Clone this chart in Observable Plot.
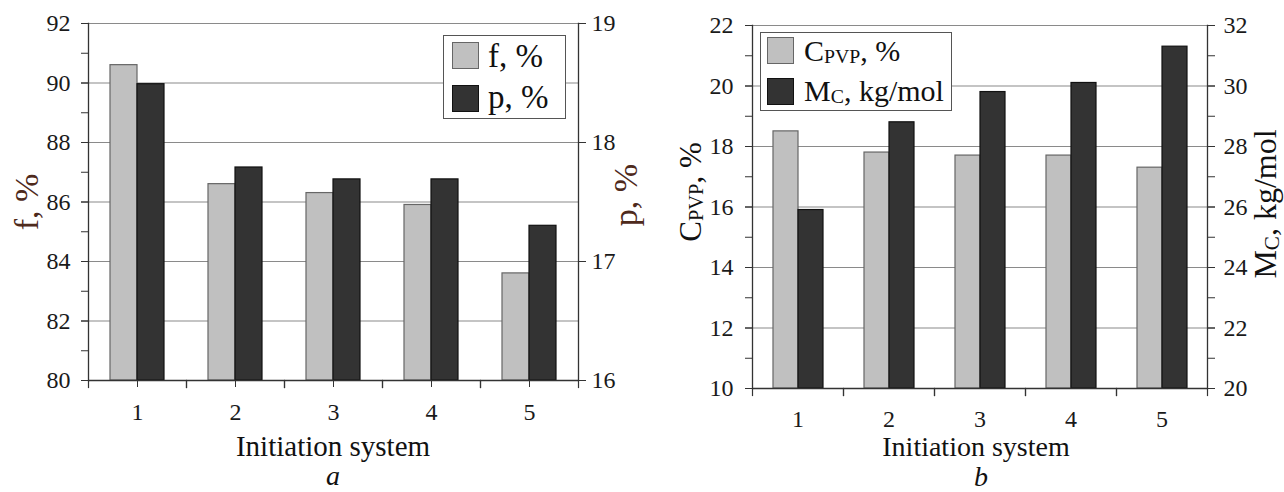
<!DOCTYPE html>
<html><head><meta charset="utf-8">
<script src="https://cdn.jsdelivr.net/npm/d3@7"></script>
<script src="https://cdn.jsdelivr.net/npm/@observablehq/plot@0.6"></script>
<style>
body{margin:0;background:#fff;}
#wrap{position:relative;width:1284px;height:492px;overflow:hidden;font-family:"Liberation Serif","Times New Roman",serif;color:#111;background:#fff;}
.panel{position:absolute;top:0;}
.t{position:absolute;white-space:nowrap;line-height:1;transform:translate(-50%,-50%);}
.tl{position:absolute;white-space:nowrap;line-height:1;transform:translate(0,-50%);}
.rot{transform:translate(-50%,-50%) rotate(-90deg);}
.legend{position:absolute;background:#fff;border:1.5px solid #555;box-sizing:border-box;}
.sw{position:absolute;width:27px;height:27px;box-sizing:border-box;}
.sub{font-size:0.66em;position:relative;top:0.12em;}
</style></head><body><div id="wrap"></div>
<script>
// ---- data ----
const categories = ["1", "2", "3", "4", "5"];
const fValues = [90.6, 86.6, 86.3, 85.9, 83.6];      // f, % (left axis, panel a)
const pValues = [18.49, 17.79, 17.69, 17.69, 17.3];  // p, % (right axis, panel a)
const cValues = [18.5, 17.8, 17.7, 17.7, 17.3];      // C_PVP, % (left axis, panel b)
const mValues = [25.9, 28.8, 29.8, 30.1, 31.3];      // M_C, kg/mol (right axis, panel b)
const fTicks = [80, 82, 84, 86, 88, 90, 92];
const pTicks = [16, 17, 18, 19];
const cTicks = [10, 12, 14, 16, 18, 20, 22];
const mTicks = [20, 22, 24, 26, 28, 30, 32];

const LIGHT = "#c0c0c0", LIGHT_STROKE = "#666", DARK = "#333333", DARK_STROKE = "#111";
const GRID = "#8a8a8a", AXIS = "#333";
const font = '"Liberation Serif","Times New Roman",serif';

// secondary -> primary axis mappings
const pToF = p => 80 + (p - 16) * 4;
const fToP = f => 16 + (f - 80) / 4;
const mToC = m => m - 10;
const cToM = c => c + 10;

const wrap = document.getElementById("wrap");

function panel({left, width, height, mL, mR, mT, mB, yDomain, rows, gridTicks, leftMinor, leftMajor, rightMinor, rightMajor, rightFmt, fxPad, centerTicks, padOuter, lPad, rPad}) {
  const plotH = height - mT - mB;
  const marks = [
    Plot.ruleY(gridTicks, {stroke: GRID, strokeWidth: 1.2}),
    Plot.barY(rows.filter(d => d.s === "a"), {fx: "cat", x: "s", y1: yDomain[0], y2: "y", fill: LIGHT, stroke: LIGHT_STROKE, strokeWidth: 1.2}),
    Plot.barY(rows.filter(d => d.s === "b"), {fx: "cat", x: "s", y1: yDomain[0], y2: "y", fill: DARK, stroke: DARK_STROKE, strokeWidth: 1.2}),
    Plot.ruleY([yDomain[0]], {stroke: AXIS, strokeWidth: 1.3}),
    Plot.frame({anchor: "left", facetAnchor: "left", stroke: AXIS, strokeWidth: 1.3}),
    Plot.frame({anchor: "right", facetAnchor: "right", stroke: AXIS, strokeWidth: 1.3}),
    // boundary ticks on the category axis
    Plot.frame({anchor: "left", insetTop: plotH, insetBottom: -7, stroke: AXIS, strokeWidth: 1.2}),
    Plot.frame({anchor: "right", insetTop: plotH, insetBottom: -7, stroke: AXIS, strokeWidth: 1.2}),
    Plot.axisY({anchor: "left", ticks: leftMinor, tickSize: 7, tickFormat: () => "", stroke: AXIS, label: null}),
    Plot.axisY({anchor: "left", ticks: leftMajor, tickSize: 7, tickPadding: lPad, fontSize: 24, fill: "#1a1a1a", stroke: AXIS, label: null}),
    Plot.axisY({anchor: "right", ticks: rightMinor, tickSize: 7, tickFormat: () => "", stroke: AXIS, label: null}),
    Plot.axisY({anchor: "right", ticks: rightMajor, tickSize: 7, tickPadding: rPad, tickFormat: rightFmt, fontSize: 24, fill: "#1a1a1a", stroke: AXIS, label: null}),
    Plot.axisFx({anchor: "bottom", tickSize: centerTicks ? 7 : 0, tickPadding: fxPad, fontSize: 24, fill: "#1a1a1a", stroke: AXIS, label: null})
  ];
  const svg = Plot.plot({
    width, height, marginLeft: mL, marginRight: mR, marginTop: mT, marginBottom: mB,
    style: {fontFamily: font, background: "transparent", overflow: "visible"},
    fx: {domain: categories, padding: 0, label: null},
    x: {domain: ["a", "b"], paddingInner: 0, paddingOuter: padOuter, axis: null},
    y: {domain: yDomain, axis: null},
    marks
  });
  const div = document.createElement("div");
  div.className = "panel";
  div.style.left = left + "px";
  div.appendChild(svg);
  wrap.appendChild(div);
}

// panel a
const rowsA = categories.flatMap((c, i) => [
  {cat: c, s: "a", y: fValues[i]},
  {cat: c, s: "b", y: pToF(pValues[i])}
]);
panel({
  left: 0, width: 642, height: 470, mL: 88, mR: 64, mT: 23, mB: 90,
  yDomain: [80, 92], rows: rowsA, gridTicks: fTicks,
  leftMinor: d3.range(80, 93, 1), leftMajor: fTicks,
  rightMinor: pTicks.map(pToF), rightMajor: pTicks.map(pToF), rightFmt: d => String(fToP(d)),
  centerTicks: true, fxPad: 15, padOuter: 0.78, lPad: 11, rPad: 6
});

// panel b
const rowsB = categories.flatMap((c, i) => [
  {cat: c, s: "a", y: cValues[i]},
  {cat: c, s: "b", y: mToC(mValues[i])}
]);
panel({
  left: 642, width: 642, height: 470, mL: 109, mR: 77, mT: 25, mB: 82,
  yDomain: [10, 22], rows: rowsB, gridTicks: cTicks,
  leftMinor: d3.range(10, 23, 1), leftMajor: cTicks,
  rightMinor: d3.range(20, 33, 1).map(mToC), rightMajor: mTicks.map(mToC), rightFmt: d => String(cToM(d)),
  centerTicks: false, fxPad: 21, padOuter: 0.79, lPad: 12, rPad: 9
});

// ---- text overlays ----
function text(html, x, y, style, cls = "t") {
  const d = document.createElement("div");
  d.className = cls;
  d.innerHTML = html;
  d.style.left = x + "px";
  d.style.top = y + "px";
  Object.assign(d.style, style || {});
  wrap.appendChild(d);
  return d;
}
const BROWN = "#4e2a1c";
text("f, %", 27, 202, {fontSize: "34px", color: BROWN}, "t rot");
text("p, %", 626, 195, {fontSize: "34px", color: BROWN}, "t rot");
text('C<span class="sub">PVP</span>, %', 690, 192, {fontSize: "31px"}, "t rot");
text('M<span class="sub">C</span>, kg/mol', 1265, 204, {fontSize: "32px"}, "t rot");
text("Initiation system", 333, 446, {fontSize: "29px"});
text("Initiation system", 976, 447, {fontSize: "28px"});
text("a", 333, 476, {fontSize: "28px", fontStyle: "italic"});
text("b", 981, 477, {fontSize: "28px", fontStyle: "italic"});

// legends
function legend(x, y, w, h, items) {
  const box = document.createElement("div");
  box.className = "legend";
  Object.assign(box.style, {left: x + "px", top: y + "px", width: w + "px", height: h + "px"});
  wrap.appendChild(box);
  items.forEach(it => {
    const s = document.createElement("div");
    s.className = "sw";
    Object.assign(s.style, {left: (it.sx - x) + "px", top: (it.sy - y) + "px", background: it.fill, border: "1.5px solid " + it.stroke});
    box.appendChild(s);
    const t = document.createElement("div");
    t.className = "tl";
    t.innerHTML = it.label;
    Object.assign(t.style, {left: (it.tx - x) + "px", top: (it.ty - y) + "px", fontSize: it.size + "px"});
    box.appendChild(t);
  });
}
legend(443, 35, 123, 84, [
  {fill: LIGHT, stroke: LIGHT_STROKE, sx: 451, sy: 41, tx: 487, ty: 55, size: 33, label: "f, %"},
  {fill: DARK, stroke: DARK_STROKE, sx: 451, sy: 84, tx: 487, ty: 96, size: 33, label: "p, %"}
]);
legend(760, 32, 192, 79, [
  {fill: LIGHT, stroke: LIGHT_STROKE, sx: 766, sy: 36, tx: 803, ty: 50, size: 30, label: 'C<span class="sub">PVP</span>, %'},
  {fill: DARK, stroke: DARK_STROKE, sx: 766, sy: 77, tx: 803, ty: 90, size: 30, label: 'M<span class="sub">C</span>, kg/mol'}
]);
</script></body></html>
